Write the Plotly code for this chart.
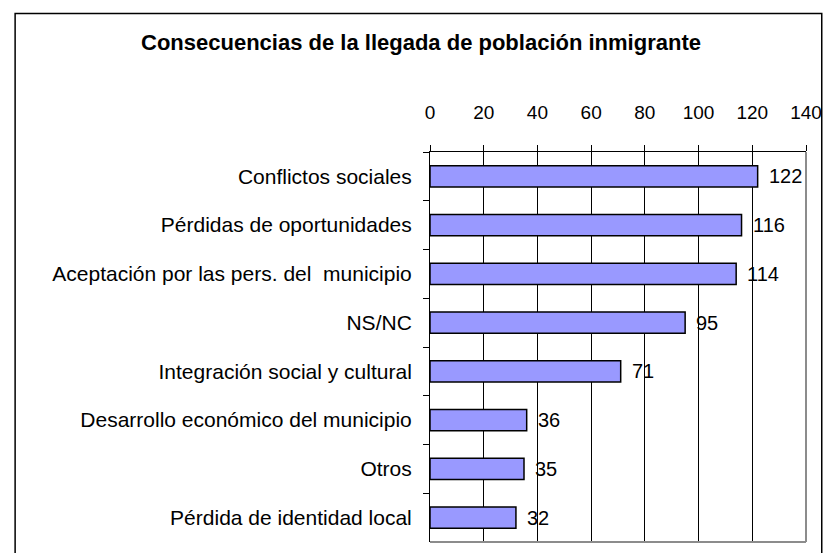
import plotly.graph_objects as go

categories = [
    "Conflictos sociales",
    "Pérdidas de oportunidades",
    "Aceptación por las pers. del  municipio",
    "NS/NC",
    "Integración social y cultural",
    "Desarrollo económico del municipio",
    "Otros",
    "Pérdida de identidad local",
]
values = [122, 116, 114, 95, 71, 36, 35, 32]
x_ticks = [0, 20, 40, 60, 80, 100, 120, 140]
title_text = "Consecuencias de la llegada de población inmigrante"

W, H = 833, 553
L, R, T, B = 430, 21, 152, 11
pw, ph = W - L - R, H - T - B

def px2x(px):
    return (px - L) / pw

def py2y(py):
    return (H - B - py) / ph

FONT = "Liberation Sans, Arial, sans-serif"

fig = go.Figure()
fig.add_trace(go.Bar(
    y=categories,
    x=values,
    orientation="h",
    marker=dict(color="#9999FF", line=dict(color="black", width=1.5)),
    showlegend=False,
))

for c, v in zip(categories, values):
    fig.add_annotation(
        x=v, y=c, xref="x", yref="y",
        text=str(v), showarrow=False,
        xanchor="left", yanchor="middle", xshift=9,
        font=dict(family=FONT, size=20, color="black"),
    )

fig.update_layout(
    width=W, height=H,
    margin=dict(l=L, r=R, t=T, b=B),
    paper_bgcolor="white",
    plot_bgcolor="white",
    bargap=0.56,
    font=dict(family=FONT, color="black"),
    title=dict(
        text="<b>" + title_text + "</b>",
        x=421 / W, xanchor="center",
        y=1 - 42 / H, yanchor="middle",
        font=dict(family=FONT, size=22, color="black"),
    ),
    xaxis=dict(
        side="top",
        range=[0, 140],
        tickvals=x_ticks,
        ticktext=[str(v) for v in x_ticks],
        ticks="outside", ticklen=6, tickcolor="black", tickwidth=1,
        showgrid=True, gridcolor="black", gridwidth=1,
        showline=True, linecolor="black", linewidth=1,
        zeroline=False,
        tickfont=dict(family=FONT, size=19, color="black"),
        ticklabelstandoff=18,
    ),
    yaxis=dict(
        autorange="reversed",
        type="category",
        tickson="boundaries",
        ticks="outside", ticklen=6, tickcolor="black", tickwidth=1,
        showgrid=False,
        showline=True, linecolor="black", linewidth=1,
        tickfont=dict(family=FONT, size=21, color="black"),
        ticklabelstandoff=13,
    ),
)

# gray right/bottom plot-area border
fig.add_shape(type="line", xref="paper", yref="paper", x0=1, x1=1, y0=0, y1=1,
              line=dict(color="#8c8c8c", width=2), layer="above")
fig.add_shape(type="line", xref="paper", yref="paper", x0=0, x1=1, y0=0, y1=0,
              line=dict(color="#8c8c8c", width=2), layer="above")
# outer chart border
fig.add_shape(type="rect", xref="paper", yref="paper",
              x0=px2x(8.5), x1=px2x(828), y0=py2y(570), y1=py2y(13.5),
              line=dict(color="black", width=1.5), fillcolor="rgba(0,0,0,0)", layer="above")

fig.write_html(
    "out.html",
    config={"displayModeBar": False},
    post_script="document.body.style.margin='0';document.body.style.overflow='hidden';",
)
